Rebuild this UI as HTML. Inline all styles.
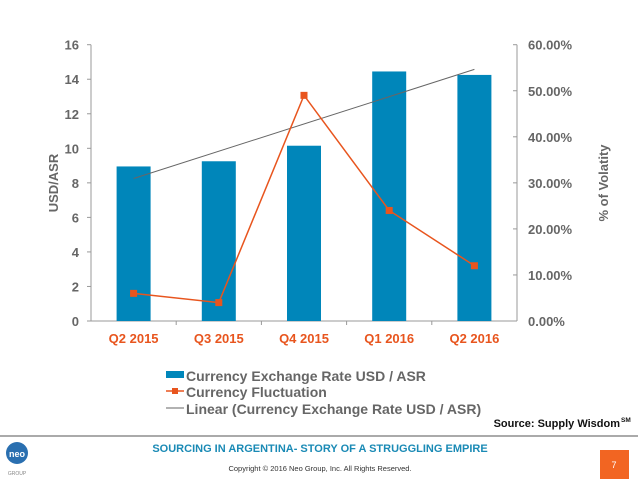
<!DOCTYPE html>
<html><head><meta charset="utf-8"><style>
body{margin:0;background:#fff;width:638px;height:479px;overflow:hidden;font-family:"Liberation Sans",sans-serif;}
svg{position:absolute;left:0;top:0}
</style></head><body>
<svg width="638" height="479" font-family="Liberation Sans, sans-serif">
<g id="axes"></g><g id="marks"></g>
<text x="58" y="183" transform="rotate(-90 58 183)" text-anchor="middle" font-size="13" font-weight="bold" fill="#666">USD/ASR</text>
<text x="608" y="183" transform="rotate(-90 608 183)" text-anchor="middle" font-size="13" font-weight="bold" fill="#666">% of Volatity</text>
<g font-size="14" font-weight="bold" fill="#666">
<rect x="166" y="371" width="18" height="7" fill="#0086BA"/>
<text x="186" y="381">Currency Exchange Rate USD / ASR</text>
<line x1="166" y1="391" x2="184" y2="391" stroke="#E8551E" stroke-width="1.5"/>
<rect x="172" y="388" width="6" height="6" fill="#E8551E"/>
<text x="186" y="397">Currency Fluctuation</text>
<line x1="166" y1="408" x2="184" y2="408" stroke="#666" stroke-width="1"/>
<text x="186" y="414">Linear (Currency Exchange Rate USD / ASR)</text>
</g>
<text x="620" y="427" text-anchor="end" font-size="11" font-weight="bold" fill="#111">Source: Supply Wisdom</text>
<text x="621" y="422" font-size="6.5" font-weight="bold" fill="#111">SM</text>
<line x1="0" y1="436" x2="638" y2="436" stroke="#777" stroke-width="1.2"/>
<circle cx="17" cy="453" r="11" fill="#2a6fb0"/>
<text x="17" y="457" text-anchor="middle" font-size="9" font-weight="bold" fill="#fff">neo</text>
<text x="17" y="475" text-anchor="middle" font-size="5" fill="#888">GROUP</text>
<text x="320" y="452" text-anchor="middle" font-size="11" font-weight="bold" fill="#1a8ab5">SOURCING IN ARGENTINA- STORY OF A STRUGGLING EMPIRE</text>
<text x="320" y="471" text-anchor="middle" font-size="7.5" fill="#333">Copyright © 2016 Neo Group, Inc. All Rights Reserved.</text>
<rect x="600" y="450" width="29" height="29" fill="#F26522"/>
<text x="614" y="468" text-anchor="middle" font-size="9" fill="#fff">7</text>
</svg>
<script>
const categories=["Q2 2015","Q3 2015","Q4 2015","Q1 2016","Q2 2016"];
const rateValues=[8.95,9.25,10.15,14.45,14.25];
const volatility=[6,4,49,24,12];
const leftTicks=[0,2,4,6,8,10,12,14,16];
const rightTicks=[0,10,20,30,40,50,60];
const NS="http://www.w3.org/2000/svg";
const X0=91,X1=517,Y0=321,Y1=44.7;
const band=(X1-X0)/categories.length;
const xc=i=>X0+band*(i+0.5);
const yL=v=>Y0-(v/16)*(Y0-Y1);
const yR=v=>Y0-(v/60)*(Y0-Y1);
function mk(tag,attrs,parent){const e=document.createElementNS(NS,tag);for(const k in attrs)e.setAttribute(k,attrs[k]);parent.appendChild(e);return e;}
const ax=document.getElementById('axes'),mg=document.getElementById('marks');
let e=mk('line',{x1:X0,y1:Y1,x2:X0,y2:Y0,stroke:'#999'},ax);


e=mk('line',{x1:X1,y1:Y1,x2:X1,y2:Y0,stroke:'#999'},ax);


e=mk('line',{x1:X0,y1:Y0,x2:X1,y2:Y0,stroke:'#999'},ax);


leftTicks.forEach(t=>{mk('line',{x1:X0-4,x2:X0,y1:yL(t),y2:yL(t),stroke:'#999'},ax);
 const tx=mk('text',{x:X0-12,y:yL(t)+5,'text-anchor':'end','font-size':13,'font-weight':'bold',fill:'#666'},ax);tx.textContent=t;
 
 });
rightTicks.forEach(t=>{mk('line',{x1:X1-4,x2:X1,y1:yR(t),y2:yR(t),stroke:'#999'},ax);
 const tx=mk('text',{x:X1+11,y:yR(t)+5,'font-size':13,'font-weight':'bold',fill:'#666'},ax);tx.textContent=t.toFixed(2)+'%';
 
 });
categories.forEach((c,i)=>{if(i>0)mk('line',{x1:X0+band*i,x2:X0+band*i,y1:Y0,y2:Y0+4,stroke:'#999'},ax);
 const tx=mk('text',{x:xc(i),y:Y0+22,'text-anchor':'middle','font-size':13,'font-weight':'bold',fill:'#E8551E'},ax);tx.textContent=c;
 
 });
rateValues.forEach((v,i)=>{const r=mk('rect',{x:xc(i)-17,y:yL(v),width:34,height:Y0-yL(v),fill:'#0086BA'},mg);
 
 });
// linear regression
const n=rateValues.length,mx=(n-1)/2,my=rateValues.reduce((a,b)=>a+b)/n;
let sxy=0,sxx=0;rateValues.forEach((v,i)=>{sxy+=(i-mx)*(v-my);sxx+=(i-mx)*(i-mx);});
const sl=sxy/sxx,ic=my-sl*mx;
e=mk('line',{x1:xc(0),y1:yL(ic),x2:xc(n-1),y2:yL(ic+sl*(n-1)),stroke:'#666','stroke-width':1},mg);


e=mk('polyline',{points:volatility.map((v,i)=>xc(i)+','+yR(v)).join(' '),fill:'none',stroke:'#E8551E','stroke-width':1.5},mg);


volatility.forEach((v,i)=>{const p=mk('rect',{x:xc(i)-3.5,y:yR(v)-3.5,width:7,height:7,fill:'#E8551E'},mg);
 
 });
</script>
</body></html>
